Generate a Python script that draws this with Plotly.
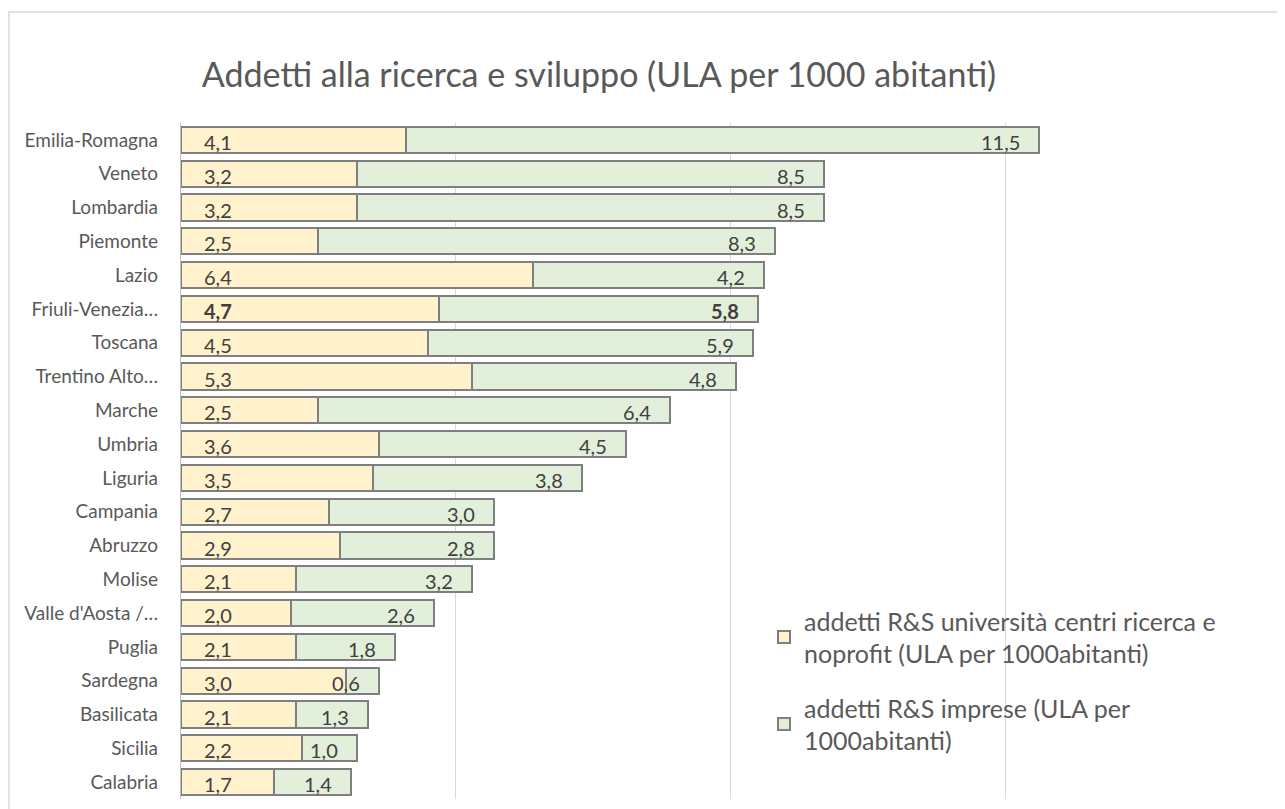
import plotly.graph_objects as go

regions = ["Emilia-Romagna", "Veneto", "Lombardia", "Piemonte", "Lazio",
           "Friuli-Venezia…", "Toscana", "Trentino Alto…", "Marche", "Umbria",
           "Liguria", "Campania", "Abruzzo", "Molise", "Valle d'Aosta /…",
           "Puglia", "Sardegna", "Basilicata", "Sicilia", "Calabria"]
univ = [4.1, 3.2, 3.2, 2.5, 6.4, 4.7, 4.5, 5.3, 2.5, 3.6,
        3.5, 2.7, 2.9, 2.1, 2.0, 2.1, 3.0, 2.1, 2.2, 1.7]
imprese = [11.5, 8.5, 8.5, 8.3, 4.2, 5.8, 5.9, 4.8, 6.4, 4.5,
           3.8, 3.0, 2.8, 3.2, 2.6, 1.8, 0.6, 1.3, 1.0, 1.4]
bold_region = "Friuli-Venezia…"

name_univ = "addetti R&S università centri ricerca e<br>noprofit (ULA per 1000abitanti)"
name_imp = "addetti R&S imprese (ULA per<br>1000abitanti)"

FONT = "Lato"
TXT = "#595959"
LBL = "#404040"

# figure is placed 8px in from the page corner by the default body margin
W, H = 1277, 801
ML, MT, MR, MB = 173, 115, 3, 10
PW = W - ML - MR
PH = H - MT - MB


def fmt(v):
    return f"{v:.1f}".replace(".", ",")


fig = go.Figure()
fig.add_trace(go.Bar(y=regions, x=univ, orientation="h", name=name_univ,
                     legendgroup="a",
                     marker=dict(color="#FFF2CC", line=dict(color="#7F7F7F", width=2)),
                     hoverinfo="x+y"))
fig.add_trace(go.Bar(y=regions, x=imprese, orientation="h", name=name_imp,
                     legendgroup="b",
                     marker=dict(color="#E2EFDA", line=dict(color="#7F7F7F", width=2)),
                     hoverinfo="x+y"))

ann = []
for r, a, b in zip(regions, univ, imprese):
    ta, tb = fmt(a), fmt(b)
    if r == bold_region:
        ta, tb = f"<b>{ta}</b>", f"<b>{tb}</b>"
    ann.append(dict(x=0, y=r, xref="x", yref="y", text=ta, showarrow=False,
                    xanchor="left", xshift=21, yshift=-2,
                    font=dict(family=FONT, size=20, color=LBL)))
    ann.append(dict(x=a + b, y=r, xref="x", yref="y", text=tb, showarrow=False,
                    xanchor="right", xshift=-17, yshift=-2,
                    font=dict(family=FONT, size=20, color=LBL)))

fig.update_layout(
    width=W, height=H,
    margin=dict(l=ML, r=MR, t=MT, b=MB),
    paper_bgcolor="white", plot_bgcolor="white",
    barmode="stack", bargap=0.22,
    font=dict(family=FONT, color=TXT),
    title=dict(text="Addetti alla ricerca e sviluppo (ULA per 1000 abitanti)",
               x=591 / W, xanchor="center", xref="container",
               y=1 - 67 / H, yanchor="middle", yref="container",
               font=dict(family=FONT, size=34, color=TXT)),
    xaxis=dict(range=[0, 20.02], dtick=5, tick0=0, showticklabels=False,
               showgrid=True, gridcolor="#D9D9D9", gridwidth=1.3,
               zeroline=False, fixedrange=True),
    yaxis=dict(autorange="reversed", showline=True, linecolor="#BFBFBF",
               linewidth=1.3, ticks="", ticklabelstandoff=18,
               tickfont=dict(family=FONT, size=19, color=TXT), fixedrange=True),
    legend=dict(x=(764 - 181) / PW, y=(799 - 598) / PH, xanchor="left",
                yanchor="top", traceorder="grouped", tracegroupgap=19,
                font=dict(family=FONT, size=25, color=TXT),
                bgcolor="rgba(0,0,0,0)"),
    annotations=ann,
    shapes=[dict(type="rect", xref="paper", yref="paper",
                 x0=(1 - ML) / PW, x1=1.3, y0=-0.2, y1=(H - MB - 4) / PH,
                 line=dict(color="#D9D9D9", width=1.5), layer="below")],
)

fig.write_html("out.html")
